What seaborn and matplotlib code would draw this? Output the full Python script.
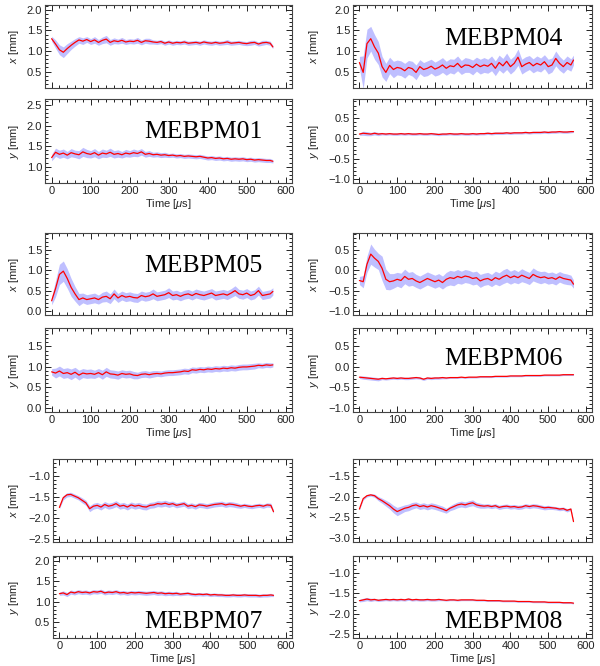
import numpy as np
import matplotlib
matplotlib.use('Agg')
import matplotlib.pyplot as plt
from matplotlib.ticker import MultipleLocator
import seaborn as sns

# Sample times (us); last sample is the end of the pulse
time_us = list(range(0, 561, 10)) + [567]

# MEBPM01
x01 = [1.30, 1.17, 1.03, 0.97, 1.06, 1.14, 1.21, 1.27, 1.24, 1.28,
       1.23, 1.27, 1.21, 1.26, 1.29, 1.21, 1.25, 1.23, 1.26, 1.22,
       1.24, 1.23, 1.26, 1.21, 1.25, 1.24, 1.22, 1.21, 1.23, 1.19,
       1.22, 1.19, 1.21, 1.20, 1.22, 1.19, 1.20, 1.21, 1.19, 1.22,
       1.20, 1.19, 1.21, 1.19, 1.20, 1.22, 1.19, 1.20, 1.21, 1.19,
       1.18, 1.20, 1.21, 1.17, 1.20, 1.21, 1.19, 1.10]
sx01 = [0.06, 0.10, 0.12, 0.13, 0.12, 0.10, 0.09, 0.08, 0.08, 0.07,
        0.07, 0.08, 0.07, 0.08, 0.09, 0.07, 0.07, 0.06, 0.07, 0.06,
        0.06, 0.06, 0.07, 0.06, 0.06, 0.07, 0.05, 0.05, 0.05, 0.05,
        0.05, 0.05, 0.05, 0.05, 0.05, 0.05, 0.05, 0.05, 0.05, 0.05,
        0.05, 0.05, 0.05, 0.05, 0.05, 0.06, 0.05, 0.05, 0.05, 0.05,
        0.05, 0.06, 0.05, 0.05, 0.06, 0.05, 0.05, 0.04]
y01 = [1.22, 1.35, 1.30, 1.33, 1.28, 1.34, 1.31, 1.29, 1.36, 1.32,
       1.30, 1.34, 1.28, 1.33, 1.31, 1.35, 1.30, 1.32, 1.29, 1.33,
       1.31, 1.34, 1.32, 1.36, 1.30, 1.32, 1.29, 1.30, 1.28, 1.29,
       1.27, 1.28, 1.26, 1.27, 1.25, 1.26, 1.25, 1.24, 1.25, 1.23,
       1.21, 1.22, 1.20, 1.21, 1.19, 1.20, 1.18, 1.19, 1.18, 1.19,
       1.17, 1.18, 1.16, 1.17, 1.16, 1.15, 1.15, 1.13]
sy01 = [0.08, 0.10, 0.10, 0.10, 0.09, 0.10, 0.09, 0.10, 0.11, 0.10,
        0.09, 0.10, 0.09, 0.10, 0.09, 0.10, 0.09, 0.09, 0.08, 0.09,
        0.08, 0.09, 0.08, 0.08, 0.07, 0.07, 0.06, 0.06, 0.06, 0.06,
        0.05, 0.05, 0.05, 0.05, 0.05, 0.05, 0.05, 0.05, 0.05, 0.05,
        0.05, 0.05, 0.05, 0.05, 0.05, 0.05, 0.05, 0.05, 0.05, 0.05,
        0.05, 0.05, 0.05, 0.05, 0.05, 0.05, 0.05, 0.04]

# MEBPM04
x04 = [0.72, 0.48, 1.18, 1.30, 1.10, 0.95, 0.62, 0.48, 0.65, 0.55,
       0.60, 0.58, 0.52, 0.60, 0.57, 0.48, 0.62, 0.55, 0.58, 0.63,
       0.56, 0.60, 0.66, 0.58, 0.64, 0.62, 0.70, 0.60, 0.66, 0.65,
       0.60, 0.68, 0.62, 0.66, 0.63, 0.70, 0.58, 0.72, 0.64, 0.75,
       0.62, 0.70, 0.85, 0.62, 0.68, 0.72, 0.64, 0.70, 0.66, 0.74,
       0.62, 0.66, 0.82, 0.70, 0.62, 0.72, 0.66, 0.78]
sx04 = [0.15, 0.40, 0.35, 0.30, 0.30, 0.28, 0.25, 0.22, 0.20, 0.20,
        0.18, 0.18, 0.18, 0.17, 0.18, 0.18, 0.17, 0.17, 0.18, 0.17,
        0.17, 0.18, 0.18, 0.17, 0.17, 0.18, 0.18, 0.17, 0.18, 0.17,
        0.18, 0.17, 0.18, 0.18, 0.17, 0.18, 0.18, 0.18, 0.18, 0.20,
        0.18, 0.18, 0.20, 0.18, 0.18, 0.17, 0.17, 0.18, 0.17, 0.17,
        0.18, 0.17, 0.18, 0.17, 0.16, 0.16, 0.15, 0.12]
y04 = [0.10, 0.12, 0.11, 0.10, 0.12, 0.10, 0.11, 0.10, 0.11, 0.10,
       0.10, 0.11, 0.10, 0.11, 0.10, 0.10, 0.11, 0.10, 0.10, 0.11,
       0.10, 0.09, 0.10, 0.10, 0.11, 0.10, 0.10, 0.11, 0.10, 0.10,
       0.11, 0.10, 0.11, 0.11, 0.12, 0.11, 0.12, 0.12, 0.12, 0.13,
       0.12, 0.13, 0.13, 0.13, 0.14, 0.13, 0.14, 0.14, 0.14, 0.15,
       0.14, 0.15, 0.15, 0.16, 0.15, 0.15, 0.16, 0.16]
sy04 = [0.03, 0.05, 0.05, 0.04, 0.04, 0.04, 0.03, 0.03, 0.03, 0.03,
        0.03, 0.03, 0.03, 0.03, 0.03, 0.03, 0.03, 0.03, 0.03, 0.03,
        0.03, 0.03, 0.03, 0.03, 0.03, 0.03, 0.03, 0.03, 0.03, 0.03,
        0.03, 0.03, 0.03, 0.03, 0.03, 0.03, 0.03, 0.03, 0.03, 0.03,
        0.03, 0.03, 0.03, 0.03, 0.03, 0.03, 0.03, 0.03, 0.03, 0.03,
        0.03, 0.03, 0.03, 0.03, 0.03, 0.03, 0.03, 0.02]

# MEBPM05
x05 = [0.25, 0.55, 0.90, 0.98, 0.80, 0.58, 0.42, 0.28, 0.32, 0.28,
       0.30, 0.32, 0.28, 0.34, 0.36, 0.30, 0.42, 0.32, 0.38, 0.34,
       0.36, 0.33, 0.32, 0.38, 0.35, 0.37, 0.42, 0.36, 0.38, 0.40,
       0.45, 0.38, 0.40, 0.36, 0.40, 0.42, 0.38, 0.43, 0.40, 0.38,
       0.41, 0.44, 0.38, 0.40, 0.42, 0.39, 0.44, 0.50, 0.42, 0.40,
       0.44, 0.38, 0.41, 0.50, 0.38, 0.40, 0.42, 0.48]
sx05 = [0.10, 0.20, 0.25, 0.25, 0.24, 0.22, 0.18, 0.15, 0.12, 0.12,
        0.12, 0.12, 0.11, 0.12, 0.13, 0.12, 0.12, 0.11, 0.11, 0.11,
        0.11, 0.11, 0.11, 0.11, 0.11, 0.11, 0.12, 0.11, 0.11, 0.11,
        0.12, 0.11, 0.11, 0.11, 0.11, 0.11, 0.11, 0.11, 0.11, 0.11,
        0.11, 0.11, 0.11, 0.11, 0.11, 0.11, 0.11, 0.12, 0.11, 0.11,
        0.11, 0.11, 0.11, 0.11, 0.10, 0.10, 0.10, 0.09]
y05 = [0.88, 0.85, 0.90, 0.84, 0.86, 0.82, 0.87, 0.80, 0.85, 0.83,
       0.84, 0.82, 0.86, 0.81, 0.88, 0.83, 0.82, 0.80, 0.84, 0.82,
       0.83, 0.80, 0.79, 0.82, 0.83, 0.81, 0.83, 0.84, 0.83, 0.85,
       0.86, 0.86, 0.87, 0.88, 0.90, 0.89, 0.93, 0.92, 0.94, 0.93,
       0.95, 0.94, 0.96, 0.95, 0.97, 0.96, 0.98, 0.97, 0.99, 1.00,
       1.00, 1.01, 1.02, 1.04, 1.03, 1.05, 1.04, 1.05]
sy05 = [0.08, 0.12, 0.12, 0.12, 0.12, 0.13, 0.12, 0.12, 0.11, 0.11,
        0.11, 0.10, 0.10, 0.11, 0.11, 0.10, 0.10, 0.10, 0.09, 0.09,
        0.09, 0.09, 0.08, 0.08, 0.08, 0.08, 0.08, 0.07, 0.07, 0.07,
        0.07, 0.07, 0.07, 0.07, 0.07, 0.07, 0.07, 0.07, 0.07, 0.07,
        0.07, 0.07, 0.07, 0.07, 0.07, 0.07, 0.07, 0.07, 0.07, 0.07,
        0.07, 0.07, 0.07, 0.06, 0.06, 0.06, 0.06, 0.05]

# MEBPM06
x06 = [-0.25, -0.28, 0.15, 0.40, 0.30, 0.22, 0.05, -0.22, -0.28, -0.26,
       -0.22, -0.25, -0.15, -0.22, -0.20, -0.26, -0.30, -0.25, -0.20, -0.24,
       -0.28, -0.24, -0.30, -0.22, -0.18, -0.20, -0.15, -0.18, -0.14, -0.16,
       -0.20, -0.18, -0.26, -0.22, -0.20, -0.25, -0.18, -0.22, -0.16, -0.12,
       -0.18, -0.14, -0.18, -0.12, -0.16, -0.20, -0.10, -0.15, -0.18, -0.16,
       -0.20, -0.18, -0.22, -0.16, -0.20, -0.22, -0.24, -0.34]
sx06 = [0.10, 0.15, 0.20, 0.25, 0.22, 0.20, 0.30, 0.25, 0.20, 0.18,
        0.17, 0.18, 0.18, 0.17, 0.17, 0.16, 0.16, 0.16, 0.16, 0.16,
        0.16, 0.16, 0.16, 0.17, 0.18, 0.18, 0.17, 0.16, 0.16, 0.16,
        0.16, 0.16, 0.16, 0.15, 0.15, 0.15, 0.16, 0.16, 0.17, 0.17,
        0.16, 0.16, 0.15, 0.16, 0.15, 0.15, 0.16, 0.15, 0.15, 0.14,
        0.14, 0.14, 0.14, 0.13, 0.13, 0.13, 0.12, 0.10]
y06 = [-0.25, -0.26, -0.27, -0.28, -0.29, -0.30, -0.28, -0.29, -0.28, -0.27,
       -0.28, -0.27, -0.28, -0.28, -0.27, -0.26, -0.27, -0.30, -0.27, -0.28,
       -0.27, -0.27, -0.26, -0.27, -0.26, -0.26, -0.26, -0.25, -0.26, -0.25,
       -0.25, -0.25, -0.24, -0.24, -0.24, -0.24, -0.23, -0.23, -0.23, -0.23,
       -0.22, -0.22, -0.22, -0.22, -0.21, -0.21, -0.21, -0.21, -0.21, -0.20,
       -0.20, -0.20, -0.20, -0.20, -0.19, -0.19, -0.19, -0.19]
sy06 = [0.03, 0.04, 0.04, 0.04, 0.04, 0.04, 0.03, 0.03, 0.03, 0.03,
        0.03, 0.03, 0.03, 0.03, 0.03, 0.03, 0.03, 0.03, 0.03, 0.03,
        0.03, 0.03, 0.03, 0.02, 0.02, 0.02, 0.02, 0.02, 0.02, 0.02,
        0.02, 0.02, 0.02, 0.02, 0.02, 0.02, 0.02, 0.02, 0.02, 0.02,
        0.02, 0.02, 0.02, 0.02, 0.02, 0.02, 0.02, 0.02, 0.02, 0.02,
        0.02, 0.02, 0.02, 0.02, 0.02, 0.02, 0.02, 0.02]

# MEBPM07
x07 = [-1.75, -1.52, -1.45, -1.44, -1.48, -1.52, -1.58, -1.64, -1.78, -1.72,
       -1.70, -1.74, -1.68, -1.72, -1.70, -1.66, -1.72, -1.70, -1.74, -1.69,
       -1.72, -1.70, -1.73, -1.74, -1.70, -1.69, -1.66, -1.67, -1.65, -1.68,
       -1.66, -1.70, -1.68, -1.66, -1.72, -1.70, -1.73, -1.69, -1.70, -1.72,
       -1.70, -1.68, -1.67, -1.66, -1.69, -1.67, -1.68, -1.70, -1.72, -1.70,
       -1.72, -1.73, -1.71, -1.70, -1.72, -1.69, -1.70, -1.85]
sx07 = [0.03, 0.05, 0.05, 0.05, 0.05, 0.05, 0.06, 0.06, 0.07, 0.07,
        0.07, 0.07, 0.07, 0.07, 0.07, 0.07, 0.07, 0.07, 0.07, 0.07,
        0.07, 0.07, 0.07, 0.07, 0.07, 0.07, 0.07, 0.07, 0.07, 0.07,
        0.06, 0.06, 0.06, 0.06, 0.06, 0.06, 0.06, 0.06, 0.06, 0.06,
        0.06, 0.06, 0.06, 0.06, 0.06, 0.06, 0.06, 0.06, 0.05, 0.05,
        0.05, 0.05, 0.05, 0.05, 0.05, 0.05, 0.05, 0.04]
y07 = [1.20, 1.22, 1.18, 1.24, 1.22, 1.25, 1.23, 1.24, 1.22, 1.25,
       1.24, 1.26, 1.22, 1.24, 1.23, 1.25, 1.22, 1.23, 1.21, 1.23,
       1.22, 1.23, 1.22, 1.21, 1.22, 1.23, 1.21, 1.22, 1.20, 1.21,
       1.20, 1.21, 1.19, 1.20, 1.21, 1.19, 1.18, 1.19, 1.18, 1.19,
       1.17, 1.18, 1.17, 1.17, 1.16, 1.16, 1.17, 1.16, 1.16, 1.17,
       1.16, 1.16, 1.16, 1.15, 1.16, 1.16, 1.17, 1.16]
sy07 = [0.04, 0.05, 0.05, 0.05, 0.05, 0.05, 0.05, 0.05, 0.05, 0.05,
        0.05, 0.05, 0.05, 0.05, 0.05, 0.05, 0.05, 0.05, 0.05, 0.05,
        0.05, 0.05, 0.05, 0.05, 0.05, 0.05, 0.05, 0.05, 0.05, 0.05,
        0.05, 0.05, 0.04, 0.04, 0.04, 0.04, 0.04, 0.04, 0.04, 0.04,
        0.04, 0.04, 0.04, 0.04, 0.04, 0.04, 0.04, 0.04, 0.04, 0.04,
        0.04, 0.04, 0.04, 0.04, 0.04, 0.04, 0.04, 0.03]

# MEBPM08
x08 = [-2.30, -2.05, -1.98, -1.96, -1.98, -2.05, -2.10, -2.16, -2.22, -2.30,
       -2.36, -2.32, -2.28, -2.26, -2.22, -2.20, -2.24, -2.22, -2.25, -2.22,
       -2.24, -2.27, -2.30, -2.34, -2.28, -2.24, -2.20, -2.18, -2.20, -2.17,
       -2.15, -2.20, -2.22, -2.23, -2.22, -2.24, -2.22, -2.26, -2.24, -2.23,
       -2.25, -2.24, -2.26, -2.25, -2.22, -2.24, -2.22, -2.23, -2.25, -2.27,
       -2.26, -2.27, -2.28, -2.30, -2.29, -2.33, -2.30, -2.60]
sx08 = [0.02, 0.03, 0.03, 0.03, 0.04, 0.05, 0.06, 0.07, 0.08, 0.09,
        0.10, 0.09, 0.08, 0.08, 0.08, 0.07, 0.07, 0.07, 0.07, 0.07,
        0.07, 0.07, 0.07, 0.06, 0.06, 0.07, 0.07, 0.07, 0.07, 0.07,
        0.07, 0.06, 0.06, 0.05, 0.05, 0.05, 0.05, 0.05, 0.05, 0.05,
        0.05, 0.05, 0.05, 0.05, 0.05, 0.05, 0.05, 0.05, 0.05, 0.05,
        0.05, 0.04, 0.04, 0.04, 0.04, 0.04, 0.03, 0.02]
y08 = [-1.68, -1.66, -1.64, -1.66, -1.65, -1.67, -1.66, -1.65, -1.66, -1.65,
       -1.66, -1.65, -1.66, -1.64, -1.66, -1.65, -1.66, -1.66, -1.65, -1.66,
       -1.66, -1.65, -1.66, -1.67, -1.66, -1.66, -1.67, -1.66, -1.66, -1.66,
       -1.66, -1.67, -1.67, -1.67, -1.68, -1.68, -1.68, -1.68, -1.69, -1.69,
       -1.69, -1.69, -1.70, -1.70, -1.70, -1.70, -1.71, -1.71, -1.71, -1.71,
       -1.72, -1.72, -1.72, -1.72, -1.73, -1.73, -1.73, -1.74]
sy08 = [0.03, 0.04, 0.04, 0.04, 0.03, 0.03, 0.03, 0.03, 0.03, 0.03,
        0.03, 0.03, 0.03, 0.03, 0.03, 0.03, 0.03, 0.03, 0.03, 0.03,
        0.03, 0.03, 0.02, 0.02, 0.02, 0.02, 0.02, 0.02, 0.02, 0.02,
        0.02, 0.02, 0.02, 0.02, 0.02, 0.02, 0.02, 0.02, 0.02, 0.02,
        0.02, 0.02, 0.02, 0.02, 0.02, 0.02, 0.02, 0.02, 0.02, 0.02,
        0.02, 0.02, 0.02, 0.02, 0.02, 0.02, 0.02, 0.02]

# panel layout: (name, col, row, x-mean, x-band, x-ylim, y-mean, y-band, y-ylim)
monitors = [
    ('MEBPM01', 0, 0, x01, sx01, (0.1, 2.12), y01, sy01, (0.6, 2.65)),
    ('MEBPM04', 1, 0, x04, sx04, (0.1, 2.12), y04, sy04, (-1.1, 0.96)),
    ('MEBPM05', 0, 1, x05, sx05, (-0.1, 1.92), y05, sy05, (-0.1, 1.95)),
    ('MEBPM06', 1, 1, x06, sx06, (-1.1, 0.92), y06, sy06, (-1.1, 0.95)),
    ('MEBPM07', 0, 2, x07, sx07, (-2.57, -0.6), y07, sy07, (0.12, 2.12)),
    ('MEBPM08', 1, 2, x08, sx08, (-3.09, -1.1), y08, sy08, (-2.59, -0.59)),
]

sns.set_style('ticks')
plt.rcParams['font.family'] = ['Liberation Sans', 'DejaVu Sans']
plt.rcParams['mathtext.fontset'] = 'custom'
plt.rcParams['mathtext.rm'] = 'Liberation Sans'
plt.rcParams['mathtext.it'] = 'Liberation Sans:italic'
plt.rcParams['axes.edgecolor'] = '#444444'
plt.rcParams['axes.linewidth'] = 0.8

fig = plt.figure(figsize=(6.0, 6.66), dpi=100)
W, H = 600.0, 666.0

# pixel boxes of each pair of panels
col_px = {0: [(45, 292), (45, 292), (53, 292)], 1: [(353, 592), (353, 592), (353, 592)]}
row_px = [((5, 88), (99, 183)), ((233, 315), (328, 412)), ((459, 542), (556, 638))]
label_px = {0: 144, 1: 444}
label_base = {'MEBPM01': 138, 'MEBPM04': 45, 'MEBPM05': 272, 'MEBPM06': 365,
              'MEBPM07': 628, 'MEBPM08': 628}

band_color = '#b4b4ff'
line_color = '#ff0000'

for name, col, row, xm, xs, xlim_x, ym, ys, xlim_y in monitors:
    left, right = col_px[col][row]
    for k, (mean, sig, ylim, lab) in enumerate([(xm, xs, xlim_x, '$x$ [mm]'),
                                                (ym, ys, xlim_y, '$y$ [mm]')]):
        top, bot = row_px[row][k]
        ax = fig.add_axes([left / W, 1 - bot / H, (right - left) / W, (bot - top) / H])
        m = np.array(mean)
        s = np.array(sig)
        ax.fill_between(time_us, m - s, m + s, color=band_color, lw=0, alpha=0.85)
        sns.lineplot(x=time_us, y=mean, ax=ax, color=line_color, lw=0.9)
        ax.set_xlim(-17, 616)
        ax.set_ylim(*ylim)
        ax.xaxis.set_major_locator(MultipleLocator(100))
        ax.xaxis.set_minor_locator(MultipleLocator(20))
        ax.yaxis.set_major_locator(MultipleLocator(0.5))
        ax.yaxis.set_minor_locator(MultipleLocator(0.1))
        ax.tick_params(which='both', direction='in', top=True, right=True,
                       labelsize=8, colors='#222222', width=0.7, pad=2)
        ax.tick_params(which='major', length=4.5)
        ax.tick_params(which='minor', length=2.2)
        ax.set_ylabel(lab, fontsize=8, labelpad=2)
        ax.yaxis.set_label_coords((21 + 300 * col - left) / (right - left), 0.5)
        if k == 0:
            ax.tick_params(labelbottom=False)
            ax.set_xlabel('')
        else:
            ax.set_xlabel(r'Time [$\mu$s]', fontsize=8, labelpad=1)
    fig.text(label_px[col] / W, 1 - label_base[name] / H, name,
             family=['Liberation Serif', 'DejaVu Serif'], fontsize=18.5,
             va='baseline', ha='left', color='black')

fig.savefig('out.png', dpi=100)
